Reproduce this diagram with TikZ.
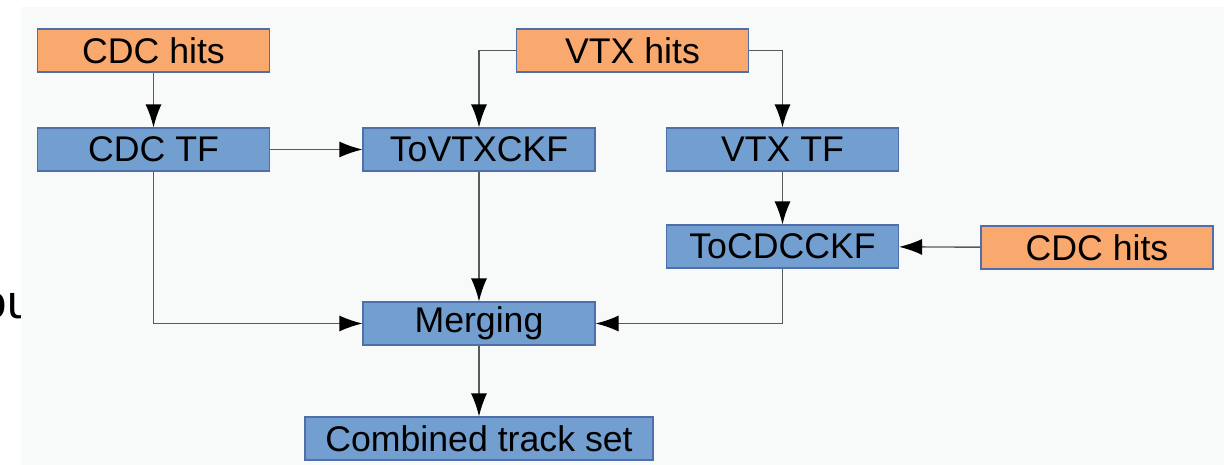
\documentclass[tikz,border=0pt]{standalone}
\usepackage{fontspec}
\setmainfont{Liberation Sans}
\usetikzlibrary{arrows.meta, positioning}

\definecolor{hitorange}{RGB}{249,168,110}
\definecolor{procblue}{RGB}{114,159,207}
\definecolor{boxedge}{RGB}{80,110,170}
\definecolor{slidebg}{RGB}{248,249,249}
\definecolor{wire}{RGB}{90,90,90}

\tikzset{
    boxfont/.style={font=\fontsize{20.3}{22}\selectfont},
    hitbox/.style={rectangle, draw=boxedge, line width=0.6pt, fill=hitorange,
        minimum width=4.64cm, minimum height=0.86cm, inner sep=0pt, boxfont},
    procbox/.style={hitbox, fill=procblue},
    flow/.style={-{Latex[length=0.46cm, width=0.32cm, color=black]}, draw=wire, line width=0.8pt}
}

\begin{document}
\begin{tikzpicture}
    \useasboundingbox (0,0) rectangle (24.48,-9.3);
    % text of the page below, mostly hidden by the slide
    \node[anchor=base east, inner sep=0pt, font=\fontsize{27}{30}\selectfont] (sidetext) at (0.68,-6.36) {ou};
    \fill[slidebg] (0.42,-0.14) rectangle (24.48,-9.3);

    % inputs
    \node[hitbox] (cdchitsA) at (3.07,-1.01) {CDC hits};
    \node[hitbox] (vtxhits) at (12.65,-1.01) {VTX hits};
    \node[hitbox] (cdchitsB) at (21.94,-4.95) {CDC hits};

    % processing steps
    \node[procbox] (cdctf) at (3.07,-2.99) {CDC TF};
    \node[procbox] (tovtx) at (9.58,-2.99) {ToVTXCKF};
    \node[procbox] (vtxtf) at (15.65,-2.99) {VTX TF};
    \node[procbox] (tocdc) at (15.65,-4.93) {ToCDCCKF};
    \node[procbox] (merge) at (9.58,-6.47) {Merging};
    \node[procbox, minimum width=6.96cm] (combined) at (9.58,-8.77) {Combined track set};

    \draw[flow] (cdchitsA) -- (cdctf);
    \draw[flow] (cdctf) -- (tovtx);
    \draw[flow] (vtxhits.west) -| (tovtx.north);
    \draw[flow] (vtxhits.east) -| (vtxtf.north);
    \draw[flow] (vtxtf) -- (tocdc);
    \draw[flow] (cdchitsB) -- (tocdc);
    \draw[flow] (tovtx) -- (merge);
    \draw[flow] (cdctf.south) |- (merge.west);
    \draw[flow] (tocdc.south) |- (merge.east);
    \draw[flow] (merge) -- (combined);
\end{tikzpicture}
\end{document}
